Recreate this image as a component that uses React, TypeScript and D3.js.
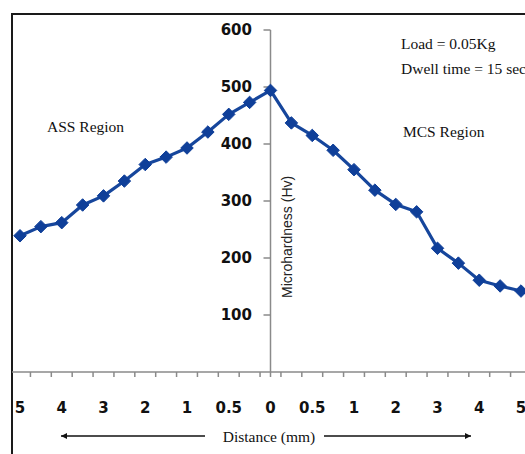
import { useEffect, useRef } from "react";
import * as d3 from "d3";

// distance labels, every other category shown (Excel-style category axis)
const tickLabels = ["5", "4", "3", "2", "1", "0.5", "0", "0.5", "1", "2", "3", "4", "5"];
// ASS side, from 5 mm up to the interface (0)
const assHardness = [239, 255, 262, 293, 309, 335, 364, 377, 393, 421, 452, 473, 494];
// MCS side, moving away from the interface
const mcsHardness = [437, 415, 389, 355, 319, 294, 281, 217, 191, 161, 151, 142];
const yTicks = [100, 200, 300, 400, 500, 600];

const W = 525;
const H = 454;

function HardnessChart() {
  const ref = useRef<SVGSVGElement>(null);

  useEffect(() => {
    const svg = d3.select(ref.current);
    svg.selectAll("*").remove();

    const values = [...assHardness, ...mcsHardness];
    const idx = values.map((_, i) => i);

    const x = d3.scalePoint<number>().domain(idx).range([20, 521]);
    const step = x.step();
    const y = d3.scaleLinear().domain([0, 600]).range([372, 30]);
    const axisX = x(assHardness.length - 1)!;
    const base = y(0);

    // frame
    svg.append("rect")
      .attr("x", 12).attr("y", 14)
      .attr("width", 530).attr("height", 470)
      .attr("fill", "white")
      .attr("stroke", "#1a1a1a")
      .attr("stroke-width", 2);

    // x axis
    svg.append("line")
      .attr("x1", 12).attr("x2", W)
      .attr("y1", base).attr("y2", base)
      .attr("stroke", "#8a8a8a").attr("stroke-width", 1.5);

    svg.append("g")
      .selectAll("line")
      .data(idx.slice(0, -1))
      .join("line")
      .attr("x1", (d) => x(d)! + step / 2)
      .attr("x2", (d) => x(d)! + step / 2)
      .attr("y1", base)
      .attr("y2", base + 5)
      .attr("stroke", "#8a8a8a")
      .attr("stroke-width", 1.5);

    svg.append("g")
      .selectAll("text")
      .data(tickLabels)
      .join("text")
      .attr("x", (_, i) => x(i * 2)!)
      .attr("y", base + 41)
      .attr("text-anchor", "middle")
      .attr("font-family", "DejaVu Sans")
      .attr("font-weight", "bold")
      .attr("font-size", 15)
      .attr("fill", "#111")
      .text((d) => d);

    // y axis
    svg.append("line")
      .attr("x1", axisX).attr("x2", axisX)
      .attr("y1", y(600)).attr("y2", base + 5)
      .attr("stroke", "#8a8a8a").attr("stroke-width", 1.5);

    const yt = svg.append("g")
      .selectAll("g")
      .data(yTicks)
      .join("g")
      .attr("transform", (d) => `translate(0,${y(d)})`);
    yt.append("line")
      .attr("x1", axisX - 7).attr("x2", axisX)
      .attr("stroke", "#8a8a8a").attr("stroke-width", 1.5);
    yt.append("text")
      .attr("x", 252)
      .attr("dy", "0.36em")
      .attr("text-anchor", "end")
      .attr("font-family", "DejaVu Sans")
      .attr("font-weight", "bold")
      .attr("font-size", 15)
      .attr("fill", "#111")
      .text((d) => d);

    svg.append("text")
      .attr("transform", `translate(${axisX + 17},${y(237)}) rotate(-90)`)
      .attr("text-anchor", "middle")
      .attr("dy", "0.35em")
      .attr("font-family", "Liberation Sans")
      .attr("font-size", 14)
      .attr("fill", "#222")
      .text("Microhardness (Hv)");

    // series
    const line = d3.line<number>()
      .x((_, i) => x(i)!)
      .y((d) => y(d));

    svg.append("path")
      .datum(values)
      .attr("d", line)
      .attr("fill", "none")
      .attr("stroke", "#16469c")
      .attr("stroke-width", 3.2)
      .attr("stroke-linejoin", "round");

    svg.append("g")
      .selectAll("path")
      .data(values)
      .join("path")
      .attr("transform", (d, i) => `translate(${x(i)},${y(d)})`)
      .attr("d", d3.symbol(d3.symbolDiamond2, 100)())
      .attr("fill", "#0f3f99")
      .attr("stroke", "#0f3f99")
      .attr("stroke-width", 1);

    // annotations
    const serif = (t: string, tx: number, ty: number, anchor = "start") =>
      svg.append("text")
        .attr("x", tx).attr("y", ty)
        .attr("text-anchor", anchor)
        .attr("font-family", "Liberation Serif")
        .attr("font-size", 15.5)
        .attr("fill", "#111")
        .text(t);

    serif("Load = 0.05Kg", 401, 49);
    serif("Dwell time = 15 sec", 401, 74);
    serif("ASS Region", 47, 132);
    serif("MCS Region", 403, 137);
    serif("Distance (mm)", 269, 442, "middle");

    // arrows under the axis title
    const ay = 436;
    const arrows = [
      { from: 205, to: 61 },
      { from: 324, to: 471 },
    ];
    svg.append("g")
      .selectAll("line")
      .data(arrows)
      .join("line")
      .attr("x1", (d) => d.from).attr("x2", (d) => d.to)
      .attr("y1", ay).attr("y2", ay)
      .attr("stroke", "#111").attr("stroke-width", 1.4);
    svg.append("g")
      .selectAll("path")
      .data(arrows)
      .join("path")
      .attr("d", (d) => {
        const s = d.to < d.from ? 1 : -1;
        return `M${d.to},${ay}L${d.to + s * 6},${ay - 3}L${d.to + s * 6},${ay + 3}Z`;
      })
      .attr("fill", "#111");
  }, []);

  return <svg ref={ref} width={W} height={H} style={{ display: "block" }} />;
}

export default function App() {
  return (
    <div style={{ position: "fixed", left: 0, top: 0, width: W, height: H, overflow: "hidden", background: "white" }}>
      <HardnessChart />
    </div>
  );
}
